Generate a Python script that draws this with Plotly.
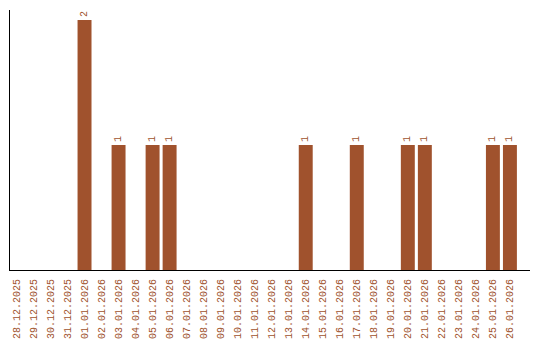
import plotly.graph_objects as go

dates = ["28.12.2025", "29.12.2025", "30.12.2025", "31.12.2025", "01.01.2026",
         "02.01.2026", "03.01.2026", "04.01.2026", "05.01.2026", "06.01.2026",
         "07.01.2026", "08.01.2026", "09.01.2026", "10.01.2026", "11.01.2026",
         "12.01.2026", "13.01.2026", "14.01.2026", "15.01.2026", "16.01.2026",
         "17.01.2026", "18.01.2026", "19.01.2026", "20.01.2026", "21.01.2026",
         "22.01.2026", "23.01.2026", "24.01.2026", "25.01.2026", "26.01.2026"]
counts = [0, 0, 0, 0, 2,
          0, 1, 0, 1, 1,
          0, 0, 0, 0, 0,
          0, 0, 1, 0, 0,
          1, 0, 0, 1, 1,
          0, 0, 0, 1, 1]

COLOR = "#A0522D"
labels = [str(v) if v else "" for v in counts]

fig = go.Figure(go.Bar(
    x=dates, y=counts, text=labels, textposition="outside", textangle=-90,
    textfont=dict(family="Liberation Mono", size=10, color=COLOR),
    marker=dict(color=COLOR, line=dict(width=0)),
    cliponaxis=False,
))
fig.update_layout(
    width=540, height=340,
    margin=dict(l=10, r=10, t=10, b=70, autoexpand=False),
    paper_bgcolor="white", plot_bgcolor="white",
    bargap=0.18,
    showlegend=False,
    xaxis=dict(type="category", range=[-0.38, 30.18], showline=True, linecolor="black",
               linewidth=1, showgrid=False, ticks="", tickangle=-90, automargin=False,
               ticklabelstandoff=4,
               tickfont=dict(family="Liberation Mono", size=10, color=COLOR)),
    yaxis=dict(range=[0, 2.08], showline=True, linecolor="black", linewidth=1,
               showgrid=False, zeroline=False, showticklabels=False, ticks="",
               automargin=False),
)
fig.write_html("out.html")
